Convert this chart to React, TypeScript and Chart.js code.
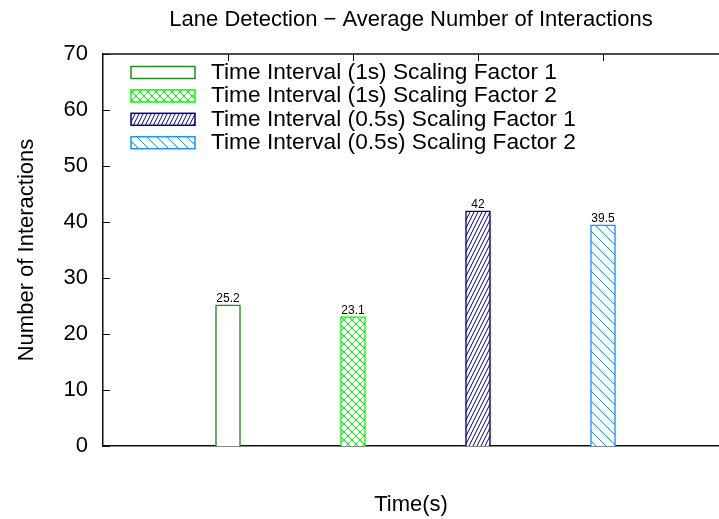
import React, { useEffect, useRef } from 'react';
import { Chart, registerables } from 'chart.js';

Chart.register(...registerables);

const titleText = 'Lane Detection \u2212 Average Number of Interactions';
const xTitle = 'Time(s)';
const yTitle = 'Number of Interactions';

const seriesLabels = [
  'Time Interval (1s) Scaling Factor 1',
  'Time Interval (1s) Scaling Factor 2',
  'Time Interval (0.5s) Scaling Factor 1',
  'Time Interval (0.5s) Scaling Factor 2',
];
const barPositions = [1, 2, 3, 4];
const values = [25.2, 23.1, 42, 39.5];
const valueLabels = ['25.2', '23.1', '42', '39.5'];
const yTickValues = [0, 10, 20, 30, 40, 50, 60, 70];
const xTickPositions = [1, 2, 3, 4];

const colors = ['#228b22', '#00ff00', '#000080', '#1e90ff'];
const patterns = ['empty', 'cross', 'slashSteep', 'backslash'];

const FONT = '"Liberation Sans", Arial, Helvetica, sans-serif';
const AXIS = '#111111';

function makeFill(kind: string, color: string): any {
  if (kind === 'empty') return 'rgba(255,255,255,1)';
  const c = document.createElement('canvas');
  let w = 8, h = 8;
  if (kind === 'slashSteep') { w = 4; h = 8; }
  if (kind === 'backslash') { w = 10; h = 10; }
  c.width = w; c.height = h;
  const ctx = c.getContext('2d')!;
  ctx.fillStyle = '#ffffff';
  ctx.fillRect(0, 0, w, h);
  ctx.strokeStyle = color;
  ctx.lineWidth = 1;
  const seg = (x1: number, y1: number, x2: number, y2: number) => {
    ctx.beginPath(); ctx.moveTo(x1, y1); ctx.lineTo(x2, y2); ctx.stroke();
  };
  if (kind === 'cross') {
    for (const o of [-w, 0, w]) {
      seg(o - 1, -1, o + w + 1, h + 1);
      seg(o + w + 1, -1, o - 1, h + 1);
    }
  } else if (kind === 'slashSteep') {
    for (const o of [-w, 0, w]) {
      seg(o - 0.5, h + 1, o + w + 0.5, -1);
    }
  } else if (kind === 'backslash') {
    for (const o of [-w, 0, w]) {
      seg(o - 1, -1, o + w + 1, h + 1);
    }
  }
  return ctx.createPattern(c, 'repeat');
}

const framePlugin = {
  id: 'gnuplotFrame',
  afterDatasetsDraw(chart: any) {
    const { ctx, chartArea } = chart;
    const xs = chart.scales.x;
    const ys = chart.scales.y;
    ctx.save();
    ctx.strokeStyle = AXIS;
    ctx.lineWidth = 1.5;
    ctx.beginPath();
    ctx.moveTo(chartArea.left, chartArea.top);
    ctx.lineTo(chartArea.right, chartArea.top);
    ctx.stroke();
    ctx.lineWidth = 1;
    for (const v of yTickValues) {
      const y = Math.round(ys.getPixelForValue(v)) + 0.5;
      ctx.beginPath();
      ctx.moveTo(chartArea.left, y);
      ctx.lineTo(chartArea.left + 7, y);
      ctx.stroke();
    }
    for (const p of xTickPositions) {
      const x = Math.round(xs.getPixelForValue(p)) + 0.5;
      ctx.beginPath();
      ctx.moveTo(x, chartArea.top);
      ctx.lineTo(x, chartArea.top + 7);
      ctx.stroke();
    }
    ctx.fillStyle = '#000';
    ctx.font = `12px ${FONT}`;
    ctx.textAlign = 'center';
    ctx.textBaseline = 'alphabetic';
    chart.data.datasets.forEach((ds: any, i: number) => {
      const el = chart.getDatasetMeta(i).data[0];
      if (!el) return;
      ctx.fillText(valueLabels[i], el.x, el.y - 3);
    });
    ctx.font = `22.7px ${FONT}`;
    ctx.textAlign = 'left';
    ctx.textBaseline = 'middle';
    chart.data.datasets.forEach((ds: any, i: number) => {
      const cy = chartArea.top + 18.5 + i * 23.4;
      const x0 = chartArea.left + 28;
      const bw = 64;
      const bh = 12;
      ctx.fillStyle = ds.backgroundColor;
      ctx.fillRect(x0, cy - bh / 2, bw, bh);
      ctx.strokeStyle = ds.borderColor;
      ctx.lineWidth = 1.5;
      ctx.strokeRect(x0, cy - bh / 2, bw, bh);
      ctx.fillStyle = '#000';
      ctx.fillText(ds.label, chartArea.left + 108, cy);
    });
    ctx.restore();
  },
};

export default function App() {
  const ref = useRef<HTMLCanvasElement | null>(null);
  useEffect(() => {
    if (!ref.current) return;
    Chart.defaults.font.family = FONT;
    const datasets = seriesLabels.map((label, i) => ({
      label,
      data: [{ x: barPositions[i], y: values[i] }],
      backgroundColor: makeFill(patterns[i], colors[i]),
      borderColor: colors[i],
      borderWidth: 1.5,
      barThickness: 25,
      grouped: false,
    }));
    const chart = new Chart(ref.current, {
      type: 'bar',
      data: { datasets },
      plugins: [framePlugin],
      options: {
        animation: false,
        responsive: false,
        layout: { padding: 0 },
        plugins: {
          legend: { display: false },
          tooltip: { enabled: false },
          title: {
            display: true,
            text: titleText,
            fullSize: false,
            color: '#000',
            font: { size: 22, weight: 'normal', family: FONT },
            padding: { top: 6.4, bottom: 21.2 },
          },
        },
        scales: {
          x: {
            type: 'linear',
            offset: false,
            min: 0,
            max: 4.928,
            ticks: { display: false },
            grid: { display: false, drawTicks: false, offset: false },
            border: { display: true, color: AXIS, width: 1.5 },
            title: {
              display: true,
              text: xTitle,
              color: '#000',
              font: { size: 22, family: FONT },
              padding: { top: 0, bottom: 1.2 },
            },
            afterFit: (s: any) => { s.height = 73; },
          },
          y: {
            min: 0,
            max: 70,
            ticks: {
              stepSize: 10,
              color: '#000',
              font: { size: 22, family: FONT },
              padding: 15,
            },
            grid: { display: false, drawTicks: false },
            border: { display: true, color: AXIS, width: 1.5 },
            title: {
              display: true,
              text: yTitle,
              color: '#000',
              font: { size: 22, family: FONT },
              padding: { top: 14, bottom: 0 },
            },
            afterFit: (s: any) => { s.width = 103; },
          },
        },
      },
    } as any);
    return () => chart.destroy();
  }, []);
  return (
    <div style={{ position: 'fixed', left: 0, top: 0, width: 719, height: 519, background: '#fff' }}>
      <canvas ref={ref} width={719} height={519} />
    </div>
  );
}
